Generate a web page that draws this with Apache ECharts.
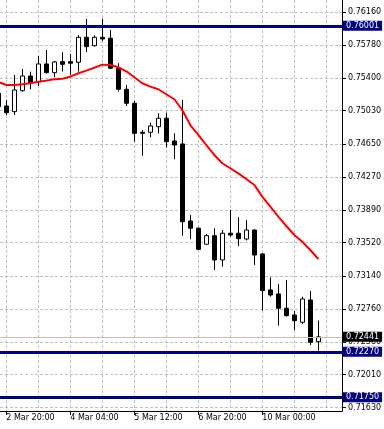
<!DOCTYPE html>
<html><head><meta charset="utf-8">
<script src="https://cdn.jsdelivr.net/npm/echarts@6/dist/echarts.min.js"></script>
<style>html,body{margin:0;padding:0;background:#fff}#c{width:384px;height:429px}</style>
</head><body><div id="c"></div>
<script>
const times = ['2 Mar 16:00','2 Mar 20:00','3 Mar 00:00','3 Mar 04:00','3 Mar 08:00','3 Mar 12:00','3 Mar 16:00','3 Mar 20:00',
  '4 Mar 00:00','4 Mar 04:00','4 Mar 08:00','4 Mar 12:00','4 Mar 16:00','4 Mar 20:00','5 Mar 00:00','5 Mar 04:00',
  '5 Mar 08:00','5 Mar 12:00','5 Mar 16:00','5 Mar 20:00','6 Mar 00:00','6 Mar 04:00','6 Mar 08:00','6 Mar 12:00',
  '6 Mar 16:00','6 Mar 20:00','8 Mar 20:00','9 Mar 00:00','9 Mar 04:00','9 Mar 08:00','9 Mar 12:00','9 Mar 16:00',
  '9 Mar 20:00','10 Mar 00:00','10 Mar 04:00','10 Mar 08:00','10 Mar 12:00','10 Mar 16:00','10 Mar 20:00','11 Mar 00:00','11 Mar 04:00'];
const opens = [0.75229,0.75084,0.75019,0.75259,0.75427,0.75362,0.75565,0.75465,0.75591,0.75591,0.75584,0.75870,0.75774,0.75870,
  0.75859,0.75516,0.75275,0.75115,0.74783,0.74783,0.74847,0.74943,0.74683,0.74649,0.73767,0.73684,0.73501,0.73599,0.73321,
  0.73627,0.73627,0.73561,0.73664,0.73390,0.72978,0.72932,0.72768,0.72691,0.72608,0.72863,0.72386];
const closes = [0.75076,0.75007,0.75267,0.75427,0.75351,0.75565,0.75465,0.75588,0.75561,0.75573,0.75870,0.75763,0.75870,0.75851,
  0.75516,0.75275,0.75115,0.74771,0.74771,0.74855,0.74943,0.74675,0.74637,0.73759,0.73684,0.73443,0.73599,0.73321,0.73627,
  0.73607,0.73565,0.73664,0.73378,0.72970,0.72920,0.72768,0.72683,0.72626,0.72874,0.72379,0.72441];
const lows = [0.75050,0.74981,0.74981,0.75248,0.75275,0.75313,0.75456,0.75412,0.75477,0.75439,0.75477,0.75699,0.75763,0.75828,
  0.75508,0.75248,0.75084,0.74675,0.74515,0.74726,0.74771,0.74611,0.74474,0.73599,0.73558,0.73435,0.73501,0.73206,0.73244,
  0.73588,0.73481,0.73544,0.73264,0.72741,0.72901,0.72569,0.72674,0.72520,0.72588,0.72348,0.72283];
const highs = [0.75290,0.75153,0.75439,0.75508,0.75477,0.75656,0.75725,0.75599,0.75699,0.75679,0.75897,0.76080,0.75893,0.76080,
  0.75954,0.75573,0.75324,0.75141,0.74809,0.74893,0.75000,0.75007,0.74771,0.75153,0.73836,0.73695,0.73619,0.73684,0.73664,
  0.73893,0.73810,0.73779,0.73672,0.73398,0.73123,0.73046,0.73092,0.72737,0.72901,0.72966,0.72628];
const maValues = [0.75359,0.75324,0.75324,0.75332,0.75344,0.75362,0.75374,0.75390,0.75396,0.75419,0.75458,0.75488,0.75522,0.75557,
  0.75553,0.75527,0.75481,0.75412,0.75344,0.75305,0.75275,0.75218,0.75161,0.75038,0.74866,0.74752,0.74637,0.74523,0.74428,
  0.74371,0.74313,0.74248,0.74180,0.74046,0.73931,0.73817,0.73710,0.73607,0.73530,0.73435,0.73332];
const yTickLabels = ['0.76160','0.75780','0.75400','0.75030','0.74650','0.74270','0.73890','0.73520','0.73140','0.72760','0.72380','0.72010','0.71630'];
const xLabelIdx = [1,9,17,25,33];
const xGridIdx = [1,5,9,13,17,21,25,29,33,37,41];
const levelLines = [0.76001,0.72270,0.71750];
const lastPrice = 0.72441;

const FONT = 'DejaVu Sans';
const candleData = times.map((t,i)=>[i, opens[i], closes[i], lows[i], highs[i]]);
const maData = maValues.map((v,i)=>[i, v]);
const xMin = 0.2125, xMax = 42.9625;
const grid = {left:0, top:0, width:342, height:411, containLabel:false, outerBoundsMode:'none'};
const boxLabel = (bg)=>({show:true, position:'end', distance:1, formatter:p=>Number(p.value).toFixed(5),
  color:'#fff', backgroundColor:bg, fontFamily:FONT, fontSize:8, lineHeight:9, padding:[1,3,0,3]});
const marks = levelLines.map(v=>({yAxis:v, lineStyle:{color:'#000080', width:3, type:'solid'}, label:boxLabel('#000080')}));
marks.push({yAxis:lastPrice, lineStyle:{color:'#c0c0c0', width:1, type:'solid'}, label:boxLabel('#000000')});

const chart = echarts.init(document.getElementById('c'), null, {renderer:'canvas'});
chart.setOption({
  animation:false,
  backgroundColor:'#ffffff',
  grid:grid,
  xAxis:[{
    type:'value', min:xMin, max:xMax, position:'bottom',
    axisLine:{show:true, lineStyle:{color:'#000', width:1}},
    axisTick:{show:false, customValues:xGridIdx},
    axisLabel:{show:false},
    splitLine:{show:true, lineStyle:{color:'#c0c0c0', width:1, type:[3,2]}}
  },{
    type:'value', min:xMin, max:xMax, position:'bottom', gridIndex:0,
    axisLine:{show:false},
    axisTick:{show:true, inside:false, length:4, customValues:xLabelIdx, lineStyle:{color:'#000'}},
    axisLabel:{show:true, customValues:xLabelIdx, formatter:v=>times[Math.round(v)], align:'left', margin:3,
      color:'#000', fontFamily:FONT, fontSize:8},
    splitLine:{show:false}
  }],
  yAxis:{
    type:'value', position:'right', min:0.71592, max:0.76297, scale:true,
    axisLine:{show:true, lineStyle:{color:'#000', width:1}},
    axisTick:{show:true, length:4, customValues:yTickLabels.map(Number), lineStyle:{color:'#000'}},
    axisLabel:{show:true, customValues:yTickLabels.map(Number), formatter:v=>v.toFixed(5), margin:6,
      color:'#000', fontFamily:FONT, fontSize:8},
    splitLine:{show:true, lineStyle:{color:'#c0c0c0', width:1, type:[3,2]}}
  },
  series:[{
    type:'candlestick', xAxisIndex:0, data:candleData, barWidth:4, clip:false,
    itemStyle:{color:'#ffffff', color0:'#000000', borderColor:'#000000', borderColor0:'#000000', borderWidth:1}
  },{
    type:'line', xAxisIndex:0, data:maData, symbol:'none', lineStyle:{color:'#ff0000', width:2}, z:3,
    markLine:{silent:true, precision:5, symbol:['none','none'], animation:false, data:marks}
  }]
});
</script></body></html>
